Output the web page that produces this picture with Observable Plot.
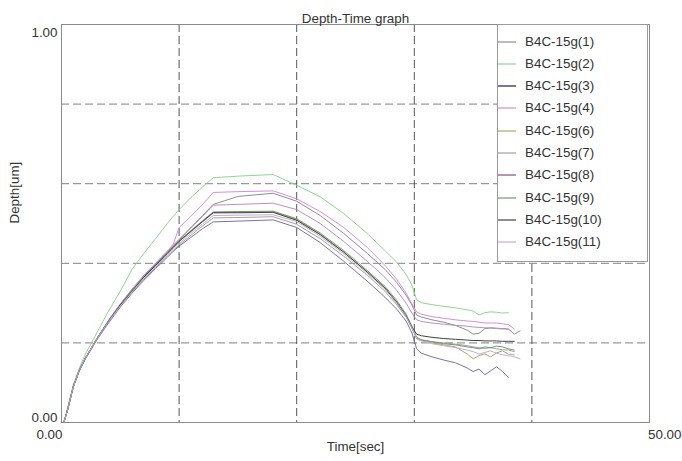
<!DOCTYPE html>
<html>
<head>
<meta charset="utf-8">
<script src="https://cdn.jsdelivr.net/npm/d3@7"></script>
<script src="https://cdn.jsdelivr.net/npm/@observablehq/plot@0.6"></script>
<style>
  html, body { margin: 0; padding: 0; background: #fff; }
  #wrap { position: relative; width: 682px; height: 461px; font-family: "Liberation Sans", Arial, sans-serif; }
  #wrap svg { position: absolute; left: 0; top: 0; }
  #legend { position: absolute; left: 497px; top: 24px; width: 151px; height: 238px; border: 1px solid #9a9a9a; background: #fff; box-sizing: border-box; }
  .item { position: absolute; left: 0; height: 16px; font-size: 13.4px; color: #333; line-height: 16px; }
  .item svg { position: absolute; left: 0; top: 0; }
  .item span { position: absolute; left: 27px; top: 0; white-space: nowrap; }
</style>
</head>
<body>
<div id="wrap"></div>
<script>
// ---- data ----
const title = "Depth-Time graph";
const xLabel = "Time[sec]";
const yLabel = "Depth[um]";
const xTicks = [0, 50];
const yTicks = [0, 1];
const xGrid = [10, 20, 30, 40];
const yGrid = [0.2, 0.4, 0.6, 0.8];

const seriesNames = ["B4C-15g(1)", "B4C-15g(2)", "B4C-15g(3)", "B4C-15g(4)", "B4C-15g(6)",
                     "B4C-15g(7)", "B4C-15g(8)", "B4C-15g(9)", "B4C-15g(10)", "B4C-15g(11)"];
const seriesColors = ["#8e8e8e", "#8fd68f", "#7676a2", "#d48ee0", "#a8a86c",
                      "#a2a2a2", "#b894b8", "#6a9c6a", "#424242", "#cba8d3"];

const time = [0.2, 0.5, 1, 1.5, 2, 3, 4, 5, 6, 7, 8, 9, 9.5, 10, 11, 12, 12.9, 15, 18,
              20, 22, 24, 26, 27.5, 28.5, 29.3, 29.8, 30.2,
              30.6, 31.5, 32.5, 33.5, 34.5, 35, 35.5, 36, 36.5, 37, 37.5, 38, 38.5, 39];

const s1 = [0, 0.03, 0.09, 0.13, 0.16, 0.21, 0.257, 0.298, 0.335, 0.37, 0.40, 0.43, 0.445, 0.46, 0.49, 0.52, 0.548, 0.568, 0.576,
            0.556, 0.52, 0.475, 0.425, 0.385, 0.352, 0.32, 0.295, 0.27,
            0.265, 0.258, 0.252, 0.244, 0.232, 0.222, 0.224, 0.236, 0.238, 0.237, 0.236, 0.235, 0.222, 0.23];
const s2 = [0, 0.035, 0.095, 0.135, 0.17, 0.225, 0.28, 0.33, 0.385, 0.425, 0.462, 0.5, 0.518, 0.535, 0.565, 0.592, 0.615, 0.619, 0.623,
            0.596, 0.567, 0.525, 0.475, 0.432, 0.403, 0.372, 0.345, 0.308,
            0.301, 0.296, 0.292, 0.288, 0.283, 0.28, 0.27, 0.276, 0.278, 0.277, 0.275, 0.276, null, null];
const s3 = [0, 0.03, 0.088, 0.128, 0.158, 0.207, 0.25, 0.29, 0.325, 0.357, 0.387, 0.415, 0.43, 0.443, 0.465, 0.487, 0.504, 0.506, 0.509,
            0.49, 0.452, 0.405, 0.355, 0.315, 0.285, 0.255, 0.225, 0.185,
            0.174, 0.165, 0.157, 0.15, 0.137, 0.128, 0.134, 0.12, 0.13, 0.14, 0.128, 0.113, null, null];
const s4 = [0, 0.03, 0.09, 0.13, 0.16, 0.21, 0.256, 0.297, 0.333, 0.368, 0.4, 0.43, 0.448, 0.49, 0.518, 0.548, 0.578, 0.58, 0.582,
            0.562, 0.53, 0.49, 0.44, 0.395, 0.36, 0.325, 0.298, 0.278,
            0.272, 0.266, 0.262, 0.258, 0.255, 0.254, 0.252, 0.25, 0.25, 0.25, 0.248, 0.246, 0.235, null];
const s6 = [0, 0.03, 0.09, 0.13, 0.16, 0.21, 0.255, 0.295, 0.33, 0.365, 0.395, 0.425, 0.44, 0.455, 0.48, 0.505, 0.527, 0.528, 0.529,
            0.51, 0.473, 0.428, 0.378, 0.338, 0.303, 0.268, 0.238, 0.21,
            0.205, 0.2, 0.195, 0.19, 0.172, 0.16, 0.168, 0.172, 0.165, 0.175, 0.18, 0.172, 0.17, null];
const s7 = [0, 0.03, 0.09, 0.13, 0.16, 0.209, 0.253, 0.292, 0.327, 0.36, 0.39, 0.418, 0.432, 0.446, 0.47, 0.494, 0.514, 0.515, 0.517,
            0.498, 0.462, 0.418, 0.37, 0.33, 0.296, 0.265, 0.237, 0.212,
            0.207, 0.203, 0.2, 0.197, 0.193, 0.19, 0.188, 0.186, 0.188, 0.185, 0.183, 0.182, 0.178, null];
const s8 = [0, 0.03, 0.09, 0.13, 0.16, 0.21, 0.256, 0.297, 0.333, 0.367, 0.398, 0.428, 0.443, 0.459, 0.488, 0.518, 0.546, 0.548, 0.551,
            0.535, 0.5, 0.455, 0.405, 0.365, 0.332, 0.3, 0.275, 0.258,
            0.254, 0.25, 0.247, 0.244, 0.242, 0.24, 0.239, 0.238, 0.237, 0.236, 0.235, 0.235, null, null];
const s9 = [0, 0.03, 0.09, 0.13, 0.16, 0.21, 0.255, 0.296, 0.331, 0.366, 0.397, 0.427, 0.442, 0.457, 0.482, 0.507, 0.529, 0.53, 0.531,
            0.512, 0.476, 0.432, 0.382, 0.342, 0.307, 0.272, 0.242, 0.214,
            0.208, 0.203, 0.198, 0.195, 0.19, 0.188, 0.185, 0.19, 0.188, 0.192, 0.19, 0.185, 0.182, null];
const s10 = [0, 0.03, 0.09, 0.13, 0.16, 0.21, 0.255, 0.295, 0.33, 0.365, 0.395, 0.425, 0.44, 0.455, 0.48, 0.505, 0.527, 0.527, 0.528,
             0.508, 0.472, 0.428, 0.378, 0.338, 0.302, 0.268, 0.24, 0.222,
             0.218, 0.214, 0.211, 0.209, 0.207, 0.206, 0.206, 0.205, 0.205, 0.205, 0.204, 0.204, 0.204, null];
const s11 = [0, 0.03, 0.09, 0.13, 0.16, 0.21, 0.254, 0.293, 0.328, 0.362, 0.392, 0.421, 0.436, 0.45, 0.475, 0.499, 0.52, 0.521, 0.522,
             0.505, 0.468, 0.424, 0.375, 0.335, 0.3, 0.266, 0.238, 0.212,
             0.205, 0.198, 0.193, 0.188, 0.182, 0.178, 0.172, 0.176, 0.18, 0.174, 0.17, 0.168, 0.165, 0.16];

const seriesValues = [s1, s2, s3, s4, s6, s7, s8, s9, s10, s11];

// ---- tidy table ----
const rows = [];
seriesValues.forEach((vals, i) => {
  vals.forEach((v, j) => { if (v != null) rows.push({name: seriesNames[i], t: time[j], d: v}); });
});

const font = "Liberation Sans, Arial, sans-serif";
const txt = "#333";

const chart = Plot.plot({
  width: 682,
  height: 461,
  marginLeft: 61,
  marginRight: 33,
  marginTop: 24,
  marginBottom: 39,
  style: {fontFamily: font, fontSize: "13px", background: "transparent"},
  x: {domain: [0, 50], axis: null},
  y: {domain: [0, 1], axis: null},
  color: {domain: seriesNames, range: seriesColors},
  marks: [
    Plot.ruleY(yGrid, {stroke: "#9a9a9a", strokeWidth: 1.3, strokeDasharray: "8,4"}),
    Plot.ruleX(xGrid, {stroke: "#555", strokeWidth: 1, strokeDasharray: "8,4"}),
    Plot.line(rows, {x: "t", y: "d", z: "name", stroke: "name", strokeWidth: 1, curve: "linear"}),
    Plot.frame({stroke: "#8a8a8a"}),
    Plot.text([title], {frameAnchor: "top", dy: -11, text: d => d, fontSize: 13.4, fill: txt}),
    Plot.text([xLabel], {frameAnchor: "bottom", dy: 28, text: d => d, fontSize: 13.4, fill: txt}),
    Plot.text([yLabel], {frameAnchor: "left", dx: -47, rotate: -90, text: d => d, fontSize: 13.4, fill: txt}),
    Plot.text([yTicks[1]], {y: d => d, frameAnchor: "left", text: d => d.toFixed(2), textAnchor: "end", dx: -4, lineAnchor: "top", dy: 3, fontSize: 13.4, fill: txt}),
    Plot.text([yTicks[0]], {y: d => d, frameAnchor: "left", text: d => d.toFixed(2), textAnchor: "end", dx: -4, lineAnchor: "bottom", dy: -1, fontSize: 13.4, fill: txt}),
    Plot.text([xTicks[0]], {x: d => d, frameAnchor: "bottom", text: d => d.toFixed(2), textAnchor: "end", dx: 1, lineAnchor: "top", dy: 7, fontSize: 13.4, fill: txt}),
    Plot.text([xTicks[1]], {x: d => d, frameAnchor: "bottom", text: d => d.toFixed(2), textAnchor: "end", dx: 32, lineAnchor: "top", dy: 7, fontSize: 13.4, fill: txt})
  ]
});

const wrap = document.getElementById("wrap");
wrap.appendChild(chart);

// ---- legend (HTML overlay) ----
const legend = document.createElement("div");
legend.id = "legend";
seriesNames.forEach((name, i) => {
  const item = document.createElement("div");
  item.className = "item";
  item.style.top = (8.5 + i * 22.3) + "px";
  const thick = (i === 2 || i === 6) ? 2 : 1.2;
  item.innerHTML = `<svg width="20" height="16"><line x1="0" x2="18" y1="8" y2="8" stroke="${seriesColors[i]}" stroke-width="${thick}"/></svg><span>${name}</span>`;
  legend.appendChild(item);
});
wrap.appendChild(legend);
</script>
</body>
</html>
